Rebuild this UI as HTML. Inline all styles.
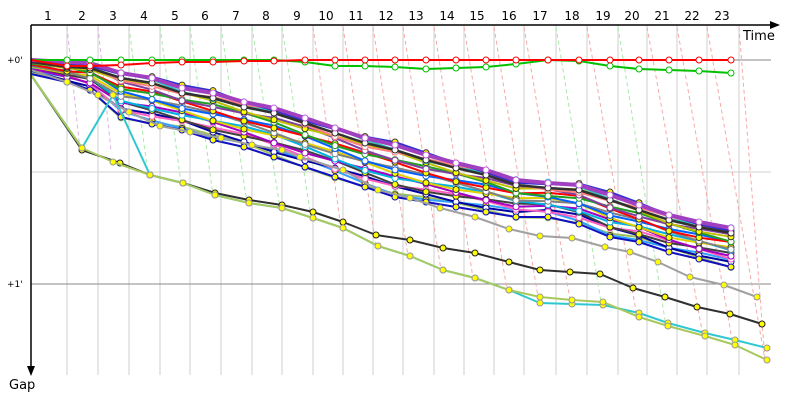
<!DOCTYPE html>
<html><head><meta charset="utf-8"><style>
html,body{margin:0;padding:0;background:#fff;width:800px;height:400px;overflow:hidden}
svg{display:block}
text{font-family:"DejaVu Sans","Liberation Sans",sans-serif}
</style></head><body>
<svg id="s" width="800" height="400" xmlns="http://www.w3.org/2000/svg"></svg>
<script>
var s=document.getElementById('s'),NS='http://www.w3.org/2000/svg';
function el(t,a,txt){var e=document.createElementNS(NS,t);for(var k in a)e.setAttribute(k,a[k]);if(txt!=null)e.textContent=txt;s.appendChild(e);return e;}
var G=[67,98,129,160,190,221,252,282,313,343,373,403,434,464,494,524,556,587,618,647,677,707,739];
var LX=[48,82,113,144,175,205,236,266,297,326,356,386,416,447,477,509,540,572,603,632,662,692,722];
// grid
G.forEach(function(x){el('line',{x1:x,y1:25,x2:x,y2:375,stroke:'#cfcfcf','stroke-width':1});});
el('line',{x1:31,y1:172,x2:771,y2:172,stroke:'#cfcfcf'});
el('line',{x1:31,y1:60,x2:771,y2:60,stroke:'#888'});
el('line',{x1:31,y1:284,x2:771,y2:284,stroke:'#888'});
// series x positions
var X=[31].concat(G.map(function(g){return g-8;}));X[1]=67;
var T=[60,62,63,73,78,88,93,102,108,118,128,138,145,155,163,170,180,183,185,195,205,215,222,228];
var B=[72,80,88,115,122,128,138,145,155,165,175,185,195,200,205,210,215,215,222,235,240,250,257,265];
var olive=[75,148,162,175,183,195,203,208,218,228,246,256,270,278,290,297,300,302,317,326,336,345,360];
var oliveX=[31,82,113,150,183,215,249,282,313,343,378,410,443,475,509,540,572,603,639,668,705,735,767];
// dashed diagonals
G.forEach(function(g,i){
  var c=(i<2)?'#e0b0e8':((i>=2&&i<=7)||i==16||i==18)?'#a8e8a8':'#f8a8a8';
  var j=Math.min(i+1,olive.length-1);
  el('line',{x1:g,y1:27,x2:oliveX[j]-2,y2:(i<2?150:olive[j]),stroke:c,'stroke-width':1,'stroke-dasharray':'4,3'});
});
function poly(xs,ys,col,w,fill,mk){
  var p=xs.map(function(x,i){return x+','+ys[i];}).join(' ');
  el('polyline',{points:p,fill:'none',stroke:col,'stroke-width':w,'stroke-linejoin':'round'});
  xs.forEach(function(x,i){if(i==0)return;el('circle',{cx:x,cy:ys[i],r:3,fill:fill,stroke:mk||col,'stroke-width':1});});
}
var cols=['#3030d0','#30c0c0','#ff8080','#c0c000','#8040a0','#20a020','#ff0000','#0060ff','#808080','#e0d000','#00b0e0','#a000c0','#404040','#ff60c0','#0000a0','#30a0ff','#a0c060'];
var n=cols.length;
for(var k=n-1;k>=0;k--){
  var f=k/(n-1);
  var ys=T.map(function(t,i){var v=t+(B[i]-t)*f;v+=Math.sin(k*2.3+i*0.9)*3;if(i==0)v=60+f*12;return v;});
  poly(X,ys,cols[k],2,(k%3==0)?'#ffff00':'#fff',k%3==0?'#333':cols[k]);
}
// dark blue bottom & black top cluster
poly(X,B.map(function(b){return b+2;}),'#1010c0',2,'#ffff00','#1010c0');
poly(X,T.map(function(t,i){return i==0?62:t+5;}),'#303030',2.5,'#fff','#303030');
poly(X,T,'#a040c0',4,'#fff','#c060e0');
// gray
var grayX=[31,67,98,129,160,190,221,252,282,300,343,378,410,440,475,509,540,572,605,630,658,690,724,757];
var grayY=[70,82,95,112,126,132,138,145,150,157,170,190,198,208,217,229,236,238,247,252,262,277,285,297];
poly(grayX,grayY,'#a0a0a0',2,'#ffff00','#999');
// black lower
var bkX=[31,82,120,150,183,215,249,282,313,343,376,410,443,475,509,540,570,600,633,665,697,730,762];
var bkY=[75,150,163,175,183,193,200,205,212,222,235,240,248,253,262,270,272,274,288,297,307,314,324];
poly(bkX,bkY,'#303030',2,'#ffff00','#222');
// cyan
var cyX=oliveX.slice(),cyY=olive.slice();cyX[2]=113;cyY[2]=95;cyY[15]=303;cyY[16]=304;cyY[17]=305;cyY[18]=313;cyY[19]=323;cyY[20]=333;cyY[21]=340;cyY[22]=348;
poly(cyX,cyY,'#30c8d0',2,'#ffff00','#999');
poly(oliveX,olive,'#a8c860',2,'#ffff00','#999');
// green & red top
var gY=[60,60,60,60,60,60,60,60,60,62,66,66,67,69,68,67,64,60,61,66,69,70,71,73];
poly(X,gY,'#00c000',2,'#fff','#00c000');
var rY=[60,66,66,65,63,62,62,61,61,60,60,60,60,60,60,60,60,60,60,60,60,60,60,60];
poly(X,rY,'#ff0000',2,'#fff','#ff0000');
// axes
el('line',{x1:31,y1:25,x2:772,y2:25,stroke:'#000','stroke-width':1.5});
el('polygon',{points:'780,25 770,21 770,29',fill:'#000'});
el('line',{x1:31,y1:25,x2:31,y2:368,stroke:'#000','stroke-width':1.5});
el('polygon',{points:'31,376 27,366 35,366',fill:'#000'});
LX.forEach(function(x,i){el('text',{x:x,y:20,'font-size':12,'text-anchor':'middle'},String(i+1));});
el('text',{x:743,y:40,'font-size':13},'Time');
el('text',{x:9,y:389,'font-size':13},'Gap');
el('text',{x:7,y:63,'font-size':9},"+0'");
el('text',{x:7,y:287,'font-size':9},"+1'");
</script>
</body></html>
